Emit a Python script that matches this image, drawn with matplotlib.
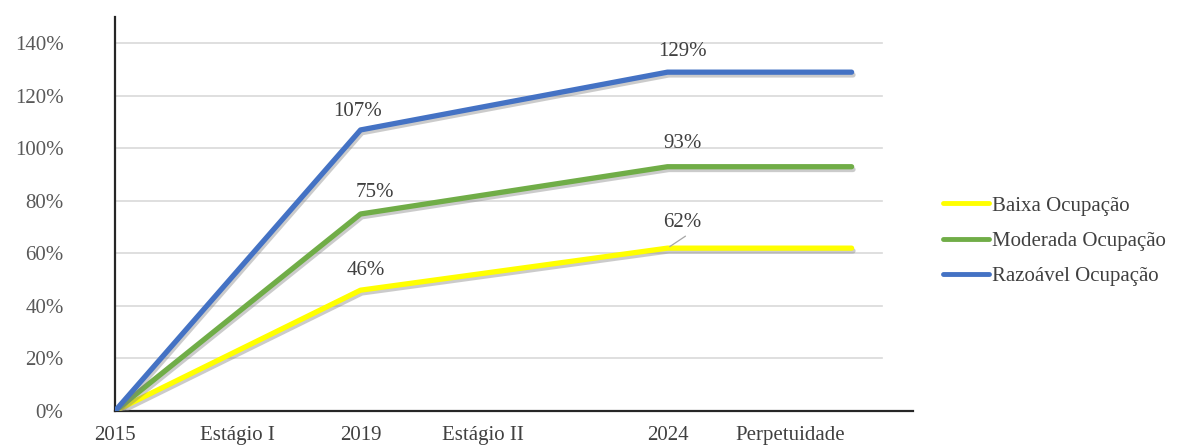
import matplotlib
matplotlib.use("Agg")
import matplotlib.pyplot as plt
import matplotlib.patheffects as pe

plt.rcParams['font.family'] = ['Liberation Serif', 'DejaVu Serif']

# ---- data ----
x_pos = [0, 4, 9, 12]                     # 2015, 2019, 2024, Perpetuidade (end)
baixa = [0, 46, 62, 62]
moderada = [0, 75, 93, 93]
razoavel = [0, 107, 129, 129]
series_names = ["Baixa Ocupação", "Moderada Ocupação", "Razoável Ocupação"]
tick_pos = [0, 2, 4, 6, 9, 11]
tick_labels = ["2015", "Estágio I", "2019", "Estágio II", "2024", "Perpetuidade"]
y_ticks = [0, 20, 40, 60, 80, 100, 120, 140]

colors = ["#FFFF00", "#70AD47", "#4472C4"]
label_offsets = {
    "Baixa Ocupação": [None, (5, 20), (15, 26), None],
    "Moderada Ocupação": [None, (14, 21), (15, 23), None],
    "Razoável Ocupação": [None, (-3, 18), (15, 21), None],
}

fig = plt.figure(figsize=(11.87, 4.45), dpi=100)
ax = fig.add_axes([115/1187, 34/445, (913-115)/1187, (411-17)/445])
ax.set_xlim(0, 13)
ax.set_ylim(0, 150)

# gridlines
for yv in y_ticks[1:]:
    ax.plot([0, 12.5], [yv, yv], color="#D9D9D9", lw=1.2, zorder=1)

shadow = [pe.SimpleLineShadow(offset=(1.0, -2.0), shadow_color="#7f7f7f", alpha=0.4),
          pe.Normal()]
handles = []
for name, vals, c in zip(series_names, [baixa, moderada, razoavel], colors):
    h, = ax.plot(x_pos, vals, color=c, lw=3.8, solid_capstyle="round",
                 solid_joinstyle="round", zorder=3, path_effects=shadow, label=name)
    handles.append(h)
    for xi, v, off in zip(x_pos, vals, label_offsets[name]):
        if off is None:
            continue
        ax.annotate(f"{v}%", (xi, v), xytext=off, textcoords="offset pixels",
                    ha="center", va="center", fontsize=15, color="#404040",
                    zorder=5)
        if name == "Baixa Ocupação" and xi == 9:
            # leader line from label to point
            ax.annotate("", (xi, v), xytext=(18, 12), textcoords="offset pixels",
                        arrowprops=dict(arrowstyle="-", color="#A6A6A6", lw=0.9,
                                        shrinkA=0, shrinkB=2), zorder=5)

ax.set_xticks(tick_pos)
ax.set_xticklabels(tick_labels, fontsize=15, color="#404040")
ax.set_yticks(y_ticks)
ax.set_yticklabels([f"{v}%" for v in y_ticks], fontsize=15, color="#595959")
ax.tick_params(axis="both", length=0)
ax.tick_params(axis="x", pad=11)
ax.tick_params(axis="y", pad=37)

ax.spines["top"].set_visible(False)
ax.spines["right"].set_visible(False)
ax.spines["left"].set_color("#262626")
ax.spines["bottom"].set_color("#262626")
ax.spines["left"].set_linewidth(1.6)
ax.spines["bottom"].set_linewidth(1.6)

fig.legend(handles=handles, labels=series_names, loc="center left",
           bbox_to_anchor=(943/1187, (445-241)/445), frameon=False,
           fontsize=15, handlelength=2.2, handletextpad=0.15, labelspacing=0.75,
           borderpad=0, borderaxespad=0, labelcolor="#404040")
for lh in fig.legends[0].get_lines():
    lh.set_path_effects([])
    lh.set_linewidth(3.5)

fig.savefig("out.png", dpi=100)
